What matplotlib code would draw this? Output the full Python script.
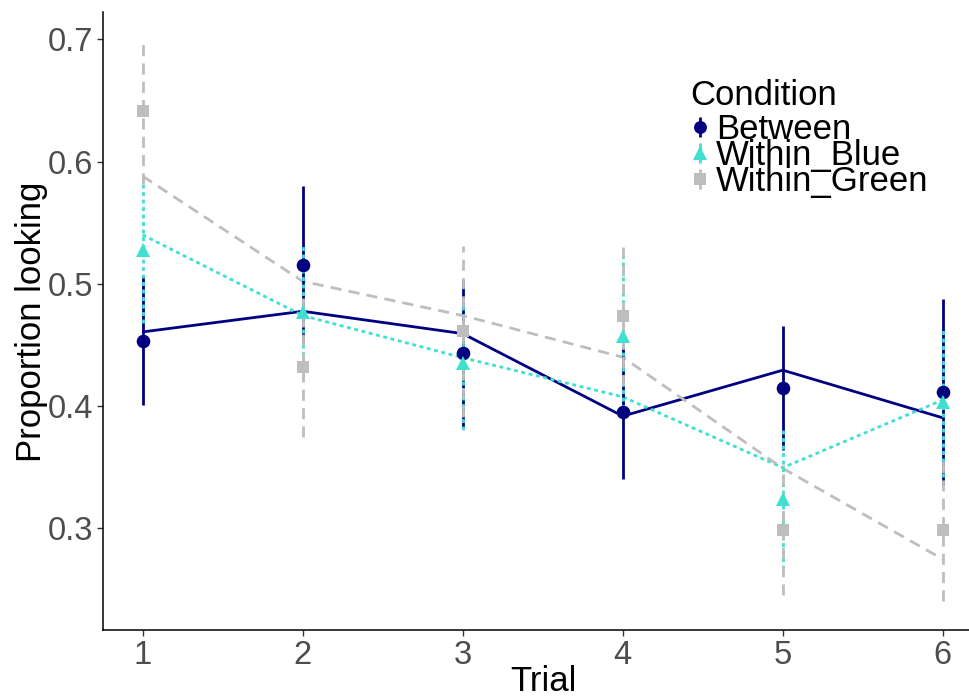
import matplotlib
matplotlib.use("Agg")
import matplotlib.pyplot as plt
from matplotlib.lines import Line2D
from matplotlib.legend_handler import HandlerTuple

plt.rcParams['font.family'] = ['Liberation Sans', 'DejaVu Sans']

trials = [1, 2, 3, 4, 5, 6]
conditions = ["Between", "Within_Blue", "Within_Green"]

between_mean = [0.4535, 0.5156, 0.443, 0.395, 0.4148, 0.4113]
between_se = [0.053, 0.064, 0.060, 0.055, 0.051, 0.076]
between_fit = [0.4606, 0.4775, 0.4592, 0.3917, 0.4293, 0.3903]

blue_mean = [0.528, 0.4765, 0.435, 0.4576, 0.3236, 0.403]
blue_se = [0.060, 0.054, 0.055, 0.066, 0.057, 0.061]
blue_fit = [0.540, 0.474, 0.4395, 0.4075, 0.3495, 0.405]

green_mean = [0.641, 0.4317, 0.461, 0.4734, 0.2985, 0.2985]
green_se = [0.059, 0.057, 0.070, 0.057, 0.053, 0.058]
green_fit = [0.588, 0.502, 0.474, 0.4399, 0.349, 0.2746]

y_ticks = [0.3, 0.4, 0.5, 0.6, 0.7]

colors = {"Between": "#000080", "Within_Blue": "#40E0D0", "Within_Green": "#BEBEBE"}
markers = {"Between": "o", "Within_Blue": "^", "Within_Green": "s"}
msizes = {"Between": 9.8, "Within_Blue": 10.3, "Within_Green": 9}
styles = {"Between": "-", "Within_Blue": (0, (1.4, 1.3)), "Within_Green": (0, (4, 2.6))}
data = {
    "Between": (between_mean, between_se, between_fit),
    "Within_Blue": (blue_mean, blue_se, blue_fit),
    "Within_Green": (green_mean, green_se, green_fit),
}

fig = plt.figure(figsize=(9.70, 6.98), dpi=100)
ax = fig.add_axes([103 / 970, 1 - 630 / 698, 1 - 103 / 970, (630 - 11.7) / 698])

lw = 2.0
handles = []
for i, c in enumerate(conditions):
    mean, se, fit = data[c]
    col = colors[c]
    ax.plot(trials, fit, color=col, lw=lw, linestyle=styles[c], zorder=2 + i * 0.1,
            dash_capstyle='butt', solid_capstyle='butt')
    lo = [m - s for m, s in zip(mean, se)]
    hi = [m + s for m, s in zip(mean, se)]
    ax.vlines(trials, lo, hi, color=col, lw=lw, linestyles=[styles[c]], zorder=3 + i * 0.1)
    ax.plot(trials, mean, linestyle='none', marker=markers[c], markersize=msizes[c],
            color=col, markeredgewidth=0, zorder=4 + i * 0.1)
    h_bar = Line2D([], [], linestyle='none', marker='|', markersize=15,
                   markeredgewidth=2.0, color=col)
    h_pt = Line2D([], [], linestyle='none', marker=markers[c], markersize=msizes[c] * 0.95,
                  markeredgewidth=0, color=col)
    handles.append((h_bar, h_pt))

ax.set_xlim(0.752, 6.17)
ax.set_ylim(0.2167, 0.7226)
ax.set_xticks(trials)
ax.set_xticklabels([str(t) for t in trials])
ax.set_yticks(y_ticks)
ax.set_yticklabels([f"{v:.1f}" for v in y_ticks])

for side in ["top", "right"]:
    ax.spines[side].set_visible(False)
for side in ["left", "bottom"]:
    ax.spines[side].set_linewidth(1.1)
    ax.spines[side].set_color("black")

ax.tick_params(axis='both', colors="#333333", labelcolor="#4D4D4D", labelsize=23.5,
               length=4, width=1.0, pad=3)

ax.set_xlabel("Trial", fontsize=25, color="black")
ax.set_ylabel("Proportion looking", fontsize=25, color="black")
ax.xaxis.set_label_coords(0.5075, -0.0565)
ax.yaxis.set_label_coords(-0.063, 0.499)

leg = ax.legend(handles, conditions, title="Condition", loc="upper left",
                bbox_to_anchor=(690 / 970, 1 - 79 / 698), bbox_transform=fig.transFigure,
                frameon=False, fontsize=25, title_fontsize=25, borderpad=0, borderaxespad=0,
                handlelength=0.55, handletextpad=0.2, labelspacing=-0.2,
                handler_map={tuple: HandlerTuple(ndivide=1)}, alignment='left')
leg._legend_box.sep = 0.5

fig.savefig("out.png", dpi=100)
